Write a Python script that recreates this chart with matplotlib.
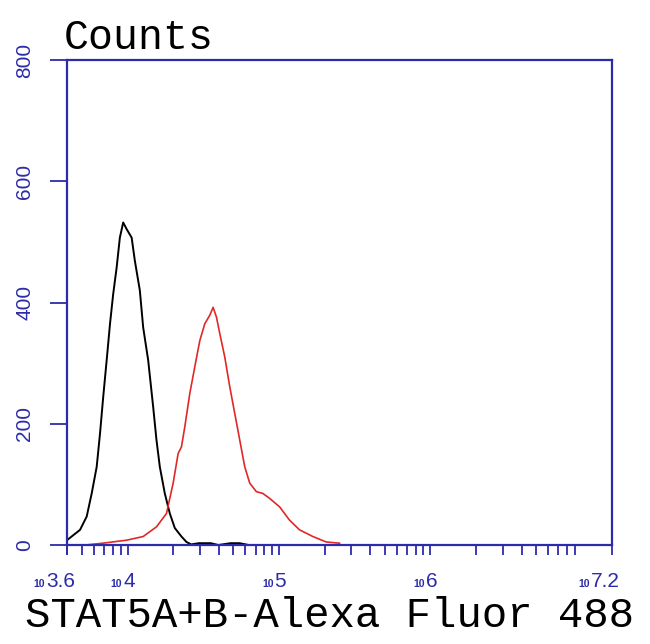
import matplotlib
matplotlib.use("Agg")
import matplotlib.pyplot as plt
from matplotlib.ticker import FixedLocator, NullFormatter
import numpy as np

# log10 fluorescence / counts
ctrl_log = [3.60, 3.686, 3.730, 3.763, 3.796, 3.818, 3.839, 3.862, 3.884, 3.905,
            3.928, 3.949, 3.971, 3.994, 4.027, 4.048, 4.081, 4.103, 4.136, 4.169,
            4.191, 4.213, 4.246, 4.279, 4.312, 4.356, 4.389, 4.42, 4.47, 4.55,
            4.60, 4.68, 4.74, 4.80]
ctrl_counts = [8, 25, 47, 85, 129, 184, 244, 305, 365, 414,
               458, 507, 532, 521, 507, 469, 420, 359, 305, 228,
               173, 129, 85, 52, 28, 14, 5, 1, 3, 3,
               0, 3, 3, 0]

stat_log = [3.72, 3.837, 3.994, 4.103, 4.191, 4.257, 4.301, 4.334, 4.356, 4.378,
            4.411, 4.444, 4.477, 4.510, 4.543, 4.565, 4.587, 4.609, 4.642, 4.675,
            4.708, 4.741, 4.774, 4.807, 4.851, 4.894, 4.938, 5.004, 5.070, 5.136,
            5.224, 5.312, 5.400]
stat_counts = [0, 3, 8, 14, 30, 52, 102, 151, 162, 195,
               250, 294, 337, 365, 379, 392, 376, 349, 310, 261,
               217, 173, 129, 102, 88, 85, 77, 63, 41, 25,
               14, 5, 3]

x_major = [3.6, 4, 5, 6, 7.2]
x_major_labels = ["3.6", "4", "5", "6", "7.2"]
y_ticks = [0, 200, 400, 600, 800]

BLUE = "#2c2ca8"
SANS = ["Liberation Sans", "DejaVu Sans"]
MONO = ["Liberation Mono", "DejaVu Sans Mono"]

fig = plt.figure(figsize=(6.5, 6.44), dpi=100)
ax = fig.add_axes([0.1031, 0.1537, 0.8385, 0.7531])

ax.plot(10 ** np.array(ctrl_log), ctrl_counts, color="black", lw=1.4)
ax.plot(10 ** np.array(stat_log), stat_counts, color="#e02828", lw=1.2)

ax.set_xscale("log")
ax.set_xlim(10 ** 3.6, 10 ** 7.2)
ax.set_ylim(0, 800)

for s in ax.spines.values():
    s.set_color(BLUE)
    s.set_linewidth(1.6)

# x axis: log ticks, labels drawn as small "10" + exponent
ax.xaxis.set_major_locator(FixedLocator([10 ** v for v in x_major]))
ax.xaxis.set_major_formatter(NullFormatter())
minor = []
for dec in range(3, 7):
    for m in range(2, 10):
        v = m * 10 ** dec
        if 10 ** 3.6 < v < 10 ** 7.2:
            minor.append(v)
ax.xaxis.set_minor_locator(FixedLocator(minor))
ax.xaxis.set_minor_formatter(NullFormatter())
ax.tick_params(axis="x", which="both", direction="out", length=7.5, width=1.3, color=BLUE)

for v, lab in zip(x_major, x_major_labels):
    off = -4 - 6 * (len(lab) - 1)
    ax.annotate("10", xy=(10 ** v, 0), xycoords=("data", "axes fraction"),
                xytext=(off, -30), textcoords="offset points",
                ha="right", va="baseline", fontsize=7.5, fontweight="bold",
                color=BLUE, family=SANS)
    ax.annotate(lab, xy=(10 ** v, 0), xycoords=("data", "axes fraction"),
                xytext=(off + 0.8, -30), textcoords="offset points",
                ha="left", va="baseline", fontsize=15, color=BLUE, family=SANS)

# y axis
ax.set_yticks(y_ticks)
ax.set_yticklabels([str(v) for v in y_ticks], rotation=90, va="center",
                   color=BLUE, fontsize=15, family=SANS)
ax.tick_params(axis="y", direction="out", length=12.5, width=1.3, color=BLUE, pad=11)

fig.text(0.098, 0.924, "Counts", fontsize=30, family=MONO, va="baseline", ha="left")
fig.text(0.507, 0.026, "STAT5A+B-Alexa Fluor 488", fontsize=30.5, family=MONO,
         va="baseline", ha="center")

fig.savefig("out.png", dpi=100)
